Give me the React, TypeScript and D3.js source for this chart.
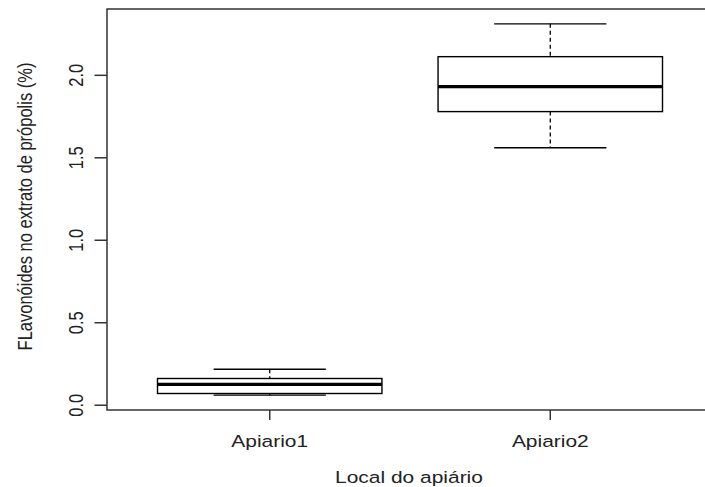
import React from "react";
import * as d3 from "d3";

const categories = ["Apiario1", "Apiario2"];
const lowerWhisker = [0.061, 1.561];
const q1 = [0.071, 1.78];
const medians = [0.126, 1.931];
const q3 = [0.162, 2.113];
const upperWhisker = [0.218, 2.312];
const yTicks = [0.0, 0.5, 1.0, 1.5, 2.0];
const yTickLabels = ["0.0", "0.5", "1.0", "1.5", "2.0"];
const xTitle = "Local do apiário";
const yTitle = "FLavonóides no extrato de própolis (%)";

const W = 705;
const H = 487;
const left = 107;
const right = 713;
const top = 9;
const bottom = 410;
const SX = 1.27;
const FS = 16.5;
const FONT = "'Liberation Sans', Arial, sans-serif";
const TXT = "#222";

export default function App() {
  const x = d3.scaleLinear().domain([0.42, 2.58]).range([left, right]);
  const y = d3.scaleLinear().domain([-0.029, 2.402]).range([bottom, top]);
  const unit = x(2) - x(1);
  const boxHalf = unit * 0.4;
  const stapleHalf = unit * 0.2;

  return (
    <svg
      width={W}
      height={H}
      style={{ position: "absolute", left: 0, top: 0, background: "#fff" }}
      fontFamily={FONT}
    >
      <rect x={0} y={0} width={W} height={H} fill="#fff" />
      {categories.map((c, i) => {
        const cx = x(i + 1);
        return (
          <g key={c}>
            <line x1={cx} x2={cx} y1={y(upperWhisker[i])} y2={y(q3[i])} stroke="#000" strokeWidth={1.3} strokeDasharray="4,3" />
            <line x1={cx} x2={cx} y1={y(q1[i])} y2={y(lowerWhisker[i])} stroke="#000" strokeWidth={1.3} strokeDasharray="4,3" />
            <line x1={cx - stapleHalf} x2={cx + stapleHalf} y1={y(upperWhisker[i])} y2={y(upperWhisker[i])} stroke="#000" strokeWidth={1.3} />
            <line x1={cx - stapleHalf} x2={cx + stapleHalf} y1={y(lowerWhisker[i])} y2={y(lowerWhisker[i])} stroke="#000" strokeWidth={1.3} />
            <rect x={cx - boxHalf} y={y(q3[i])} width={boxHalf * 2} height={y(q1[i]) - y(q3[i])} fill="#fff" stroke="#000" strokeWidth={1.4} />
            <line x1={cx - boxHalf} x2={cx + boxHalf} y1={y(medians[i])} y2={y(medians[i])} stroke="#000" strokeWidth={3.2} />
          </g>
        );
      })}
      <rect x={left} y={top} width={right - left} height={bottom - top} fill="none" stroke="#333" strokeWidth={1.5} />
      {yTicks.map((t, i) => (
        <g key={t}>
          <line x1={left - 12.5} x2={left} y1={y(t)} y2={y(t)} stroke="#333" strokeWidth={1.5} />
          <text
            transform={`translate(83,${y(t)}) scale(${SX},1) rotate(-90)`}
            textAnchor="middle"
            fontSize={FS}
            fill={TXT}
          >
            {yTickLabels[i]}
          </text>
        </g>
      ))}
      {categories.map((c, i) => (
        <g key={c}>
          <line x1={x(i + 1)} x2={x(i + 1)} y1={bottom} y2={bottom + 10} stroke="#333" strokeWidth={1.5} />
          <text
            transform={`translate(${x(i + 1)},447) scale(${SX},1)`}
            textAnchor="middle"
            fontSize={FS}
            fill={TXT}
          >
            {c}
          </text>
        </g>
      ))}
      <text
        transform={`translate(${(left + right) / 2 - 1},483) scale(${SX},1)`}
        textAnchor="middle"
        fontSize={FS}
        fill={TXT}
      >
        {xTitle}
      </text>
      <text
        transform={`translate(32,${(top + bottom) / 2 - 3}) scale(${SX},1) rotate(-90)`}
        textAnchor="middle"
        fontSize={FS}
        fill={TXT}
      >
        {yTitle}
      </text>
    </svg>
  );
}
